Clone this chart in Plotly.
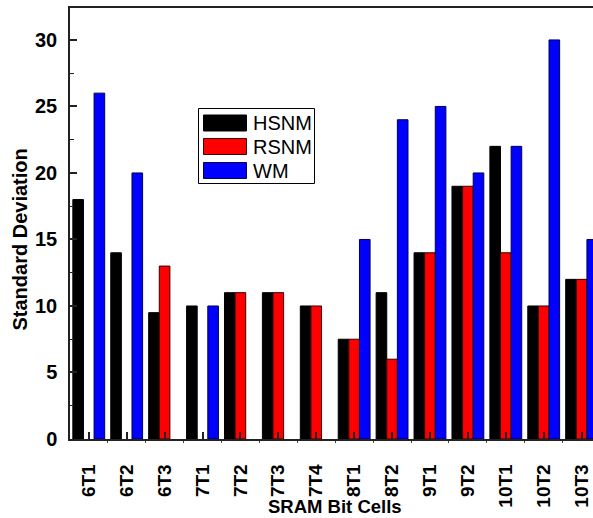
import plotly.graph_objects as go

# SRAM bit-cell variants and standard deviation of each stability metric
cells = ["6T1", "6T2", "6T3", "7T1", "7T2", "7T3", "7T4",
         "8T1", "8T2", "9T1", "9T2", "10T1", "10T2", "10T3"]
hsnm = [18, 14, 9.5, 10, 11, 11, 10, 7.5, 11, 14, 19, 22, 10, 12]
rsnm = [None, None, 13, None, 11, 11, 10, 7.5, 6, 14, 19, 14, 10, 12]
wm = [26, 20, None, 10, None, None, None, 15, 24, 25, 20, 22, 30, 15]

series_names = ["HSNM", "RSNM", "WM"]
series_values = [hsnm, rsnm, wm]
series_colors = ["#000000", "#ff0000", "#0000ff"]
outline_colors = ["#000000", "#3a0000", "#000050"]

FONT = "Liberation Sans, Arial, sans-serif"
W, H = 593, 518
ML, MR, MT, MB = 70, 0, 8, 79

positions = list(range(len(cells)))

fig = go.Figure()
for name, vals, col, edge in zip(series_names, series_values, series_colors, outline_colors):
    fig.add_trace(go.Bar(
        x=positions, y=vals, name=name,
        marker=dict(color=col, line=dict(color=edge, width=1)),
        showlegend=False,
    ))


# Pixel positions converted to paper coordinates of the plot area
def px_x(px):
    return (px - ML) / (W - ML - MR)


def px_y(py):
    return (H - MB - py) / (H - MB - MT)


# Legend drawn as a framed box with wide swatches
fig.add_shape(type="rect", xref="paper", yref="paper",
              x0=px_x(198.5), x1=px_x(314.5), y0=px_y(183.5), y1=px_y(108.5),
              line=dict(color="#000000", width=1), fillcolor="white", layer="above")
swatch_top = [115, 138.5, 162.5]
for top, name, col, edge in zip(swatch_top, series_names, series_colors, outline_colors):
    fig.add_shape(type="rect", xref="paper", yref="paper",
                  x0=px_x(203.5), x1=px_x(246.5), y0=px_y(top + 16), y1=px_y(top),
                  line=dict(color=edge, width=1), fillcolor=col, layer="above")
    fig.add_annotation(xref="paper", yref="paper", x=px_x(251), y=px_y(top + 8),
                       xanchor="left", yanchor="middle", text=name, showarrow=False,
                       font=dict(family=FONT, size=20, color="#000000"))

# Axis titles
fig.add_annotation(xref="paper", yref="paper", x=px_x(19.5), y=px_y(240),
                   xanchor="center", yanchor="middle", textangle=-90,
                   text="Standard Deviation", showarrow=False,
                   font=dict(family=FONT, size=20, weight="bold", color="#000000"))
fig.add_annotation(xref="paper", yref="paper", x=px_x(335), y=px_y(517.5),
                   xanchor="center", yanchor="bottom", borderpad=0,
                   text="SRAM Bit Cells", showarrow=False,
                   font=dict(family=FONT, size=18.5, weight="bold", color="#000000"))

fig.update_layout(
    width=W, height=H,
    margin=dict(l=ML, r=MR, t=MT, b=MB, pad=0, autoexpand=False),
    paper_bgcolor="white", plot_bgcolor="white",
    barmode="group", bargap=0.16, bargroupgap=0,
    font=dict(family=FONT, color="#000000"),
)

fig.update_xaxes(
    automargin=False,
    range=[-0.495, 13.3],
    tickmode="array", tickvals=positions, ticktext=cells,
    tickangle=-90,
    tickfont=dict(family=FONT, size=19, weight="bold", color="#000000"),
    ticks="inside", ticklen=7, tickwidth=1.5, tickcolor="#222222",
    ticklabelstandoff=16,
    minor=dict(tickmode="array", tickvals=[p + 0.5 for p in positions[:-1]] + [-0.5],
               ticks="outside", ticklen=2, tickwidth=1, tickcolor="#444444"),
    showline=True, linewidth=1.5, linecolor="#222222", mirror=True,
    showgrid=False, zeroline=False,
)

fig.update_yaxes(
    automargin=False,
    range=[0, 32.4],
    tickmode="linear", tick0=0, dtick=5,
    tickfont=dict(family=FONT, size=20, weight="bold", color="#000000"),
    ticks="inside", ticklen=7, tickwidth=1.5, tickcolor="#222222",
    ticklabelstandoff=7,
    minor=dict(dtick=2.5, ticks="inside", ticklen=4, tickwidth=1.2, tickcolor="#222222"),
    showline=True, linewidth=1.5, linecolor="#222222",
    showgrid=False, zeroline=False,
)

fig.write_html("out.html")
